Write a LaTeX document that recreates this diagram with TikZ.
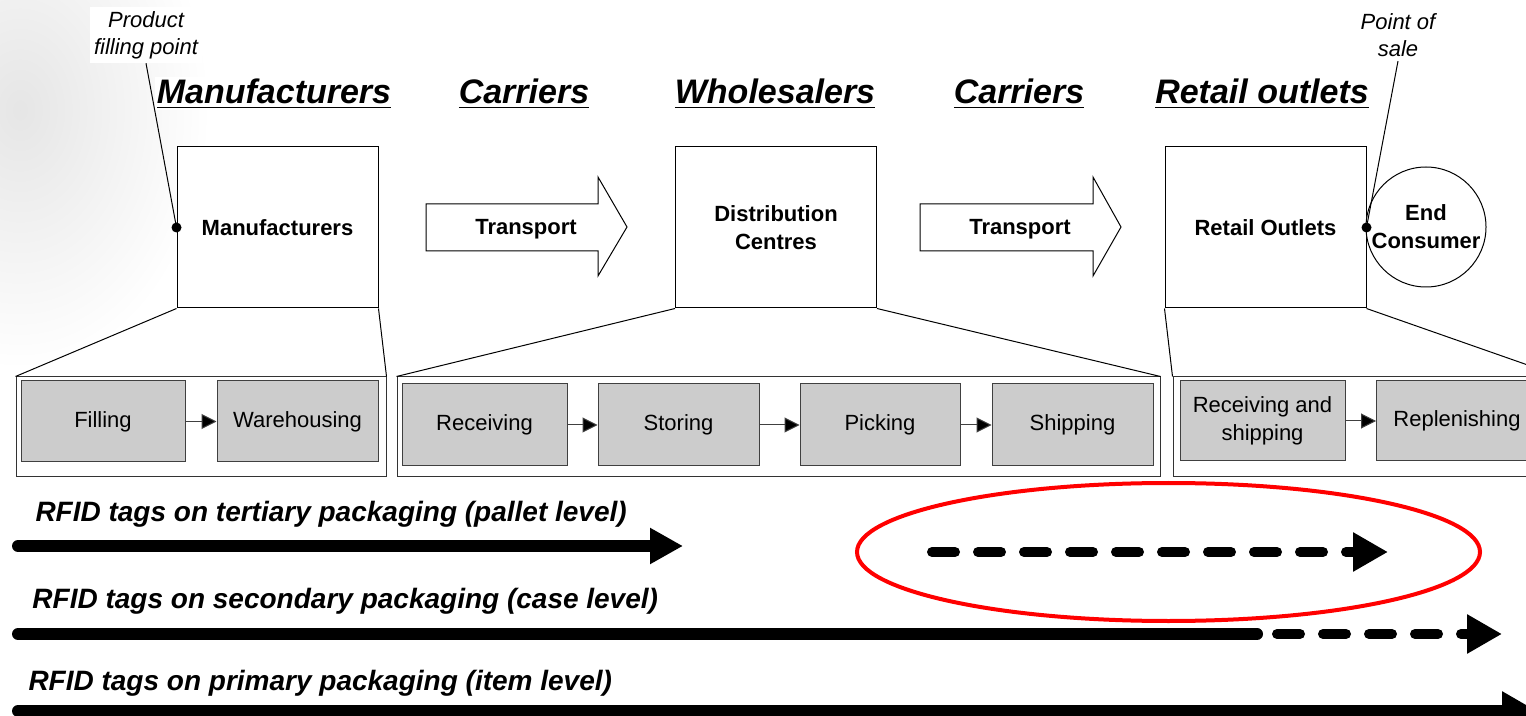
\documentclass[tikz,border=0pt]{standalone}
\usepackage{fontspec}
\setmainfont{Liberation Sans}
\usetikzlibrary{arrows.meta,shapes.geometric}

\tikzset{every picture/.style={line width=0.5pt}}
\tikzset{
  stage/.style={fill=white, inner sep=1pt, font=\fontsize{17}{20}\selectfont\bfseries\itshape},
  unit/.style={draw, fill=white, align=center, minimum width=100.5pt, minimum height=80.5pt, font=\fontsize{11}{14}\selectfont\bfseries},
  proc/.style={draw=black!75, fill=black!20, align=center, minimum width=80.5pt, minimum height=40.5pt, font=\fontsize{11}{14}\selectfont},
  group/.style={draw=black!80, minimum height=50pt},
  note/.style={fill=white, inner sep=2pt, align=center, font=\fontsize{11}{13.5}\selectfont\itshape},
  pin/.style={circle, fill, inner sep=0pt, minimum size=5pt},
  flow/.style={draw=black!75, -{Triangle[length=7.5pt,width=7.5pt,fill=black]}},
  rfid/.style={anchor=base west, inner sep=0pt, font=\fontsize{14}{16}\selectfont\bfseries\itshape},
  band/.style={line width=6pt, line cap=round},
  dashband/.style={line width=5pt, line cap=round, dash pattern=on 11.5pt off 11.5pt},
}

\begin{document}
\begin{tikzpicture}[x=0.5pt,y=0.5pt,yscale=-1]
\clip (0,0) rectangle (1526,716);
\useasboundingbox (0,0) rectangle (1526,716);

%Shape: faint background picture
\shade[inner color=black!10, outer color=white] (20,110) ellipse (190 and 260);

% Text Node: stage headings
\node[stage, anchor=base] (hman) at (274,104) {\underline{Manufacturers}};
\node[stage, anchor=base] (hcar1) at (524,104) {\underline{Carriers}};
\node[stage, anchor=base] (hwho) at (775,104) {\underline{Wholesalers}};
\node[stage, anchor=base] (hcar2) at (1019,104) {\underline{Carriers}};
\node[stage, anchor=base] (hret) at (1262,104) {\underline{Retail outlets}};

%Shape: Rectangle units
\node[unit] (mfr) at (277.5,227.5) {Manufacturers};
\node[unit] (dc) at (776,227.5) {Distribution\\Centres};
\node[unit] (ro) at (1265.5,227.5) {Retail Outlets};
%Shape: Circle
\node[circle, draw, fill=white, inner sep=0pt, minimum size=60pt, align=center,
  font=\fontsize{11}{14}\selectfont\bfseries] (ec) at (1426,227) {End\\Consumer};

%Shape: Right Arrow
\draw (426,204) -- (598,204) -- (598,177) -- (627,227) -- (598,276) -- (598,251) -- (426,251) -- cycle ;
\node[anchor=base, font=\fontsize{11}{14}\selectfont\bfseries] (tr1) at (526,235) {Transport};
%Shape: Right Arrow
\draw (920,204) -- (1093,204) -- (1093,177) -- (1121,227) -- (1093,276) -- (1093,251) -- (920,251) -- cycle ;
\node[anchor=base, font=\fontsize{11}{14}\selectfont\bfseries] (tr2) at (1020,235) {Transport};

% Text Node: callouts
\node[note] (pfp) at (146,35) {Product\\filling point};
\node[note] (pos) at (1398,35) {Point of\\sale};
\node[pin] (fp) at (mfr.west) {};
\node[pin] (sp) at (ro.east) {};
\draw (pfp.south) -- (fp.center);
\draw (pos.south) -- (sp.center);

%Shape: Rectangle groups
\node[group, minimum width=185pt] (mgrp) at (201,427) {};
\node[group, minimum width=381.5pt] (wgrp) at (778.5,427) {};
\node[group, minimum width=193.5pt] (rgrp) at (1366.5,427) {};

%Straight Lines: zoom out
\draw (mfr.south west) -- (mgrp.north west);
\draw (mfr.south east) -- (mgrp.north east);
\draw (dc.south west) -- (wgrp.north west);
\draw (dc.south east) -- (wgrp.north east);
\draw (ro.south west) -- (rgrp.north west);
\draw (ro.south east) -- (rgrp.north east);

%Shape: Rectangle processes
\node[proc, minimum width=82pt] (fill) at (103,421.5) {Filling};
\node[proc] (ware) at (297.5,421.5) {Warehousing};
\node[proc, minimum width=82.5pt, minimum height=41pt] (recv) at (484.5,425) {Receiving};
\node[proc, minimum height=41pt] (stor) at (678.5,425) {Storing};
\node[proc, minimum width=80pt, minimum height=41pt] (pick) at (880,425) {Picking};
\node[proc, minimum height=41pt] (ship) at (1072.5,425) {Shipping};
\node[proc, minimum width=82.5pt, minimum height=40pt] (rs) at (1262.5,421) {Receiving and\\shipping};
\node[proc, minimum height=40pt] (repl) at (1457,421) {Replenishing};

\draw[flow] (fill) -- (ware);
\draw[flow] (recv) -- (stor);
\draw[flow] (stor) -- (pick);
\draw[flow] (pick) -- (ship);
\draw[flow] (rs) -- (repl);

% Text Node: RFID levels
\node[rfid] (tert) at (35,521) {RFID tags on tertiary packaging (pallet level)};
\node[rfid] (seco) at (32,608) {RFID tags on secondary packaging (case level)};
\node[rfid] (prim) at (28,690) {RFID tags on primary packaging (item level)};

%Shape: Ellipse
\node[ellipse, draw=red, line width=2pt, minimum width=311.5pt, minimum height=69pt] (focus) at (1168.5,552) {};

%Straight Lines: tag arrows
\coordinate (t0) at (18,546);
\coordinate (t1) at (683,546);
\coordinate (t2) at (932,552);
\coordinate (t3) at (1388,552);
\draw[band, -{Triangle[length=16.5pt,width=17pt]}] (t0) -- (t1);
\draw[dashband, -{Triangle[length=17.5pt,width=18.5pt]}] (t2) -- (t3);

\coordinate (c0) at (18,634);
\coordinate (c1) at (1257,634);
\coordinate (c2) at (1277,634);
\coordinate (c3) at (1502,634);
\draw[band] (c0) -- (c1);
\draw[dashband, -{Triangle[length=17.5pt,width=18.5pt]}] (c2) -- (c3);

\coordinate (i0) at (18,711);
\coordinate (i1) at (1537,711);
\draw[band, -{Triangle[length=17.5pt,width=18.5pt]}] (i0) -- (i1);

\end{tikzpicture}
\end{document}
